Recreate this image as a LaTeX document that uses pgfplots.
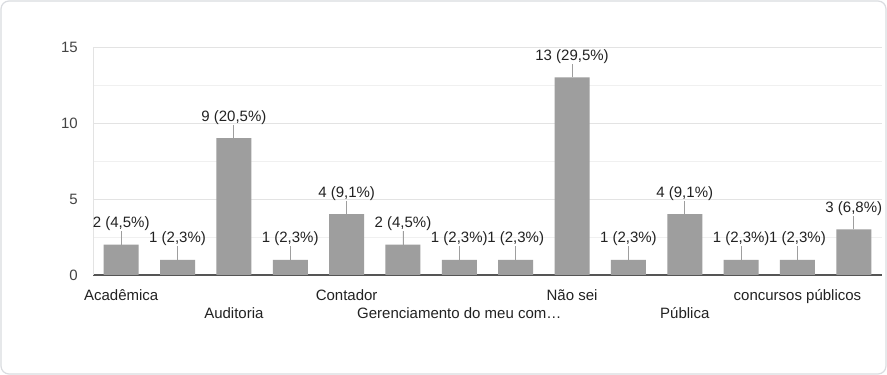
\documentclass[border=0pt]{standalone}
\usepackage{pgfplots}
\pgfplotsset{compat=1.18}
\usepackage{fontspec}
\setmainfont{Liberation Sans}
\definecolor{barc}{HTML}{9E9E9E}
\definecolor{framec}{HTML}{DADCE0}
\definecolor{gridc}{HTML}{E3E3E3}
\definecolor{minorc}{HTML}{F0F0F0}
\definecolor{axisc}{HTML}{555555}
\definecolor{tickc}{HTML}{444444}
\definecolor{labc}{HTML}{222222}
\definecolor{linec}{HTML}{9E9E9E}
\begin{document}
\begin{tikzpicture}
\useasboundingbox (0,0) rectangle (887bp,375bp);
\fill[white] (0,0) rectangle (887bp,375bp);
\draw[color=framec, line width=1.2bp, rounded corners=8bp] (1bp,1bp) rectangle (886bp,374bp);
\begin{axis}[
  at={(93bp,100bp)}, anchor=south west,
  scale only axis, width=789bp, height=228bp,
  xmin=-0.5, xmax=13.5, ymin=0, ymax=15,
  ybar, bar width=35bp,
  axis x line*=bottom, axis y line*=left,
  x axis line style={draw=axisc, line width=1.5bp},
  y axis line style={draw=gridc, line width=0.8bp},
  ytick={0,5,10,15}, minor y tick num=1,
  ymajorgrids, yminorgrids,
  major grid style={draw=gridc, line width=0.8bp},
  minor grid style={draw=minorc, line width=0.8bp},
  major tick length=0pt, minor tick length=0pt,
  /pgf/number format/assume math mode=true,
  yticklabel style={font=\fontsize{15bp}{18bp}\selectfont, text=tickc, inner sep=0pt, xshift=-15bp},
  xtick={0,4,8,12},
  xticklabels={Acadêmica, Contador, Não sei, concursos públicos},
  xticklabel style={font=\fontsize{15bp}{18bp}\selectfont, text=labc, inner sep=0pt, anchor=north, yshift=-14bp},
  extra x ticks={2,6,10},
  extra x tick labels={Auditoria, Gerenciamento do meu com…, Pública},
  extra x tick style={xticklabel style={yshift=-18bp}, xmajorgrids=false},
]
\addplot[fill=barc, draw=none,
  point meta=explicit symbolic,
  nodes near coords,
  nodes near coords style={anchor=south, inner sep=0pt, yshift=13.5bp, font=\fontsize{15bp}{18bp}\selectfont, text=labc},
  error bars/.cd, y dir=plus, y fixed=0.88, error mark=none,
  error bar style={draw=linec, line width=0.9bp}]
coordinates {
(0,2) [2 (4,5\%)]
(1,1) [1 (2,3\%)]
(2,9) [9 (20,5\%)]
(3,1) [1 (2,3\%)]
(4,4) [4 (9,1\%)]
(5,2) [2 (4,5\%)]
(6,1) [1 (2,3\%)]
(7,1) [1 (2,3\%)]
(8,13) [13 (29,5\%)]
(9,1) [1 (2,3\%)]
(10,4) [4 (9,1\%)]
(11,1) [1 (2,3\%)]
(12,1) [1 (2,3\%)]
(13,3) [3 (6,8\%)]
};
\end{axis}
\end{tikzpicture}
\end{document}
